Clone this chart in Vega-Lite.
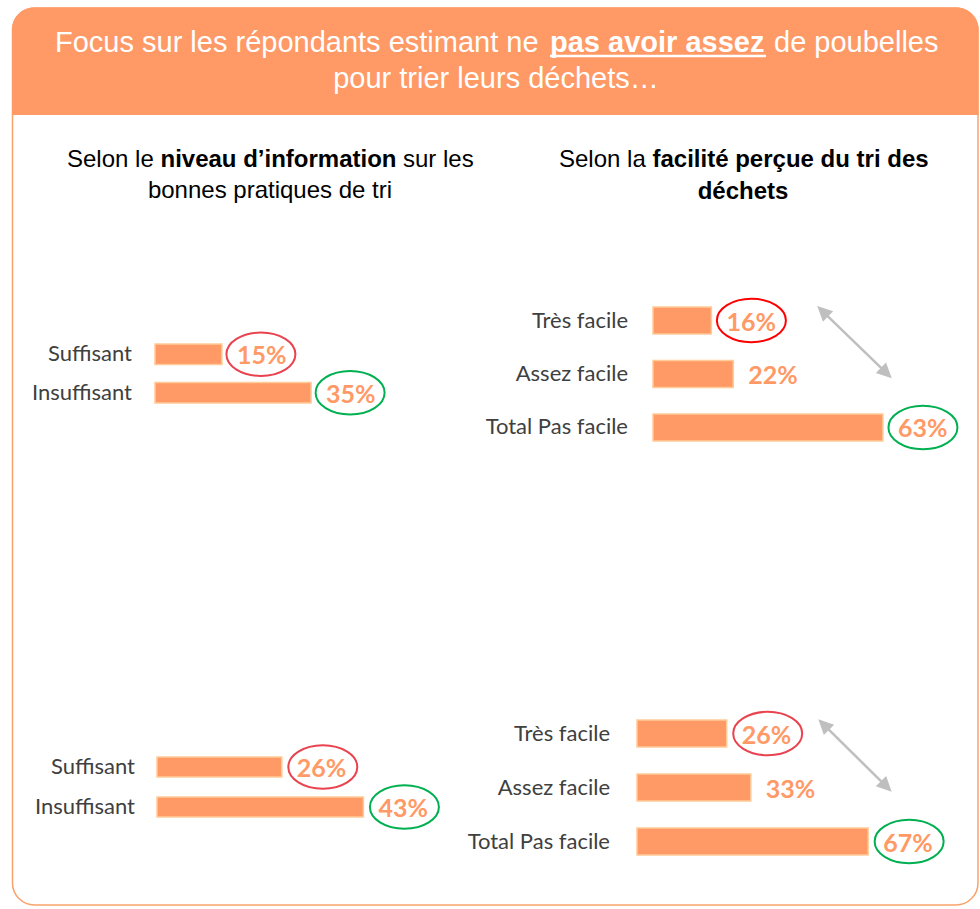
{
  "$schema": "https://vega.github.io/schema/vega-lite/v6.json",
  "width": 980,
  "height": 909,
  "padding": 0,
  "autosize": {"type": "none"},
  "background": "white",
  "config": {"view": {"stroke": null}, "axis": {"disable": true}},
  "data": {"values": [{}]},
  "datasets": {
    "info_1": [
      {"niveau": "Suffisant", "part": 0.15, "cercle": "min"},
      {"niveau": "Insuffisant", "part": 0.35, "cercle": "max"}
    ],
    "facilite_1": [
      {"facilite": "Très facile", "part": 0.16, "cercle": "min"},
      {"facilite": "Assez facile", "part": 0.22, "cercle": null},
      {"facilite": "Total Pas facile", "part": 0.63, "cercle": "max"}
    ],
    "info_2": [
      {"niveau": "Suffisant", "part": 0.26, "cercle": "min"},
      {"niveau": "Insuffisant", "part": 0.43, "cercle": "max"}
    ],
    "facilite_2": [
      {"facilite": "Très facile", "part": 0.26, "cercle": "min"},
      {"facilite": "Assez facile", "part": 0.33, "cercle": null},
      {"facilite": "Total Pas facile", "part": 0.67, "cercle": "max"}
    ]
  },
  "layer": [
    {
      "mark": {"type": "rect", "fillOpacity": 0, "stroke": "#F9A26A", "strokeWidth": 1.5, "cornerRadius": 22},
      "encoding": {"x": {"value": 12.5}, "x2": {"value": 978}, "y": {"value": 8}, "y2": {"value": 905}}
    },
    {
      "mark": {"type": "rect", "fill": "#FF9966", "cornerRadiusTopLeft": 22, "cornerRadiusTopRight": 22},
      "encoding": {"x": {"value": 12}, "x2": {"value": 978.5}, "y": {"value": 7.5}, "y2": {"value": 115}}
    },
    {
      "mark": {"type": "text", "font": "Liberation Sans", "fontSize": 29, "fill": "white", "align": "left", "baseline": "alphabetic"},
      "encoding": {"x": {"value": 55}, "y": {"value": 52}, "text": {"value": "Focus sur les répondants estimant ne"}}
    },
    {
      "mark": {"type": "text", "font": "Liberation Sans", "fontSize": 29, "fontWeight": "bold", "fill": "white", "align": "left", "baseline": "alphabetic"},
      "encoding": {"x": {"value": 550}, "y": {"value": 52}, "text": {"value": "pas avoir assez"}}
    },
    {
      "mark": {"type": "text", "font": "Liberation Sans", "fontSize": 29, "fill": "white", "align": "left", "baseline": "alphabetic"},
      "encoding": {"x": {"value": 774}, "y": {"value": 52}, "text": {"value": "de poubelles"}}
    },
    {
      "mark": {"type": "text", "font": "Liberation Sans", "fontSize": 29, "fill": "white", "align": "center", "baseline": "alphabetic"},
      "encoding": {"x": {"value": 496}, "y": {"value": 88}, "text": {"value": "pour trier leurs déchets…"}}
    },
    {
      "mark": {"type": "rule", "stroke": "white", "strokeWidth": 2.5},
      "encoding": {"x": {"value": 550}, "x2": {"value": 766}, "y": {"value": 56}}
    },
    {
      "mark": {"type": "text", "font": "Liberation Sans", "fontSize": 24, "fill": "black", "align": "left", "baseline": "alphabetic"},
      "encoding": {"x": {"value": 67}, "y": {"value": 167}, "text": {"value": "Selon le"}}
    },
    {
      "mark": {"type": "text", "font": "Liberation Sans", "fontSize": 24, "fontWeight": "bold", "fill": "black", "align": "left", "baseline": "alphabetic"},
      "encoding": {"x": {"value": 160.5}, "y": {"value": 167}, "text": {"value": "niveau d’information"}}
    },
    {
      "mark": {"type": "text", "font": "Liberation Sans", "fontSize": 24, "fill": "black", "align": "left", "baseline": "alphabetic"},
      "encoding": {"x": {"value": 403}, "y": {"value": 167}, "text": {"value": "sur les"}}
    },
    {
      "mark": {"type": "text", "font": "Liberation Sans", "fontSize": 24, "fill": "black", "align": "center", "baseline": "alphabetic"},
      "encoding": {"x": {"value": 270}, "y": {"value": 198}, "text": {"value": "bonnes pratiques de tri"}}
    },
    {
      "mark": {"type": "text", "font": "Liberation Sans", "fontSize": 24, "fill": "black", "align": "left", "baseline": "alphabetic"},
      "encoding": {"x": {"value": 559}, "y": {"value": 167}, "text": {"value": "Selon la"}}
    },
    {
      "mark": {"type": "text", "font": "Liberation Sans", "fontSize": 24, "fontWeight": "bold", "fill": "black", "align": "left", "baseline": "alphabetic"},
      "encoding": {"x": {"value": 652.5}, "y": {"value": 167}, "text": {"value": "facilité perçue du tri des"}}
    },
    {
      "mark": {"type": "text", "font": "Liberation Sans", "fontSize": 24, "fontWeight": "bold", "fill": "black", "align": "center", "baseline": "alphabetic"},
      "encoding": {"x": {"value": 743}, "y": {"value": 199}, "text": {"value": "déchets"}}
    },
    {
      "mark": {"type": "rule", "stroke": "#BFBFBF", "strokeWidth": 2.5},
      "encoding": {"x": {"value": 824}, "y": {"value": 312.6}, "x2": {"value": 885}, "y2": {"value": 371.7}}
    },
    {
      "mark": {"type": "point", "shape": "M0,-1L0.78,0.6L-0.78,0.6Z", "size": 353, "filled": true, "opacity": 1, "color": "#BFBFBF", "angle": 314},
      "encoding": {"x": {"value": 824}, "y": {"value": 312.6}}
    },
    {
      "mark": {"type": "point", "shape": "M0,-1L0.78,0.6L-0.78,0.6Z", "size": 353, "filled": true, "opacity": 1, "color": "#BFBFBF", "angle": 134},
      "encoding": {"x": {"value": 885}, "y": {"value": 371.7}}
    },
    {
      "mark": {"type": "rule", "stroke": "#BFBFBF", "strokeWidth": 2.5},
      "encoding": {"x": {"value": 825}, "y": {"value": 725.9}, "x2": {"value": 885}, "y2": {"value": 785.1}}
    },
    {
      "mark": {"type": "point", "shape": "M0,-1L0.78,0.6L-0.78,0.6Z", "size": 353, "filled": true, "opacity": 1, "color": "#BFBFBF", "angle": 314.6},
      "encoding": {"x": {"value": 825}, "y": {"value": 725.9}}
    },
    {
      "mark": {"type": "point", "shape": "M0,-1L0.78,0.6L-0.78,0.6Z", "size": 353, "filled": true, "opacity": 1, "color": "#BFBFBF", "angle": 134.6},
      "encoding": {"x": {"value": 885}, "y": {"value": 785.1}}
    },
    {
      "data": {"name": "info_1"},
      "encoding": {
        "x": {"field": "part", "type": "quantitative", "axis": null, "scale": {"domain": [0, 1], "range": [155, 601], "nice": false}},
        "y": {"field": "niveau", "type": "nominal", "axis": null, "scale": {"domain": ["Suffisant", "Insuffisant"], "range": [344, 403], "paddingInner": 0.47, "paddingOuter": 0}}
      },
      "layer": [
        {"mark": {"type": "bar", "fill": "#FF9966", "stroke": "#FFCC99", "strokeWidth": 1.5}},
        {
          "mark": {"type": "text", "align": "left", "baseline": "middle", "dx": 15, "dy": 2, "font": "Lato", "fontWeight": "bold", "fontSize": 25, "fill": "#FF9966"},
          "encoding": {"text": {"field": "part", "type": "quantitative", "format": ".0%"}}
        },
        {
          "transform": [{"filter": "datum.cercle != null"}],
          "mark": {"type": "point", "shape": "M-1,0C-1,-0.348,-0.5523,-0.63,0,-0.63C0.5523,-0.63,1,-0.348,1,0C1,0.348,0.5523,0.63,0,0.63C-0.5523,0.63,-1,0.348,-1,0Z", "size": 4761, "filled": false, "strokeWidth": 2, "opacity": 1, "xOffset": 39},
          "encoding": {"color": {"field": "cercle", "type": "nominal", "legend": null, "scale": {"domain": ["min", "max"], "range": ["#E8434E", "#00B050"]}}}
        },
        {
          "mark": {"type": "text", "align": "right", "baseline": "middle", "dx": -23, "font": "Lato", "fontSize": 22, "fill": "#404040"},
          "encoding": {"x": {"datum": 0, "type": "quantitative"}, "text": {"field": "niveau", "type": "nominal"}}
        }
      ]
    },
    {
      "data": {"name": "facilite_1"},
      "encoding": {
        "x": {"field": "part", "type": "quantitative", "axis": null, "scale": {"domain": [0, 1], "range": [653, 1018], "nice": false}},
        "y": {"field": "facilite", "type": "nominal", "axis": null, "scale": {"domain": ["Très facile", "Assez facile", "Total Pas facile"], "range": [307, 441], "paddingInner": 0.495, "paddingOuter": 0}}
      },
      "layer": [
        {"mark": {"type": "bar", "fill": "#FF9966", "stroke": "#FFCC99", "strokeWidth": 1.5}},
        {
          "mark": {"type": "text", "align": "left", "baseline": "middle", "dx": 15, "dy": 2, "font": "Lato", "fontWeight": "bold", "fontSize": 25, "fill": "#FF9966"},
          "encoding": {"text": {"field": "part", "type": "quantitative", "format": ".0%"}}
        },
        {
          "transform": [{"filter": "datum.cercle != null"}],
          "mark": {"type": "point", "shape": "M-1,0C-1,-0.348,-0.5523,-0.63,0,-0.63C0.5523,-0.63,1,-0.348,1,0C1,0.348,0.5523,0.63,0,0.63C-0.5523,0.63,-1,0.348,-1,0Z", "size": 4761, "filled": false, "strokeWidth": 2, "opacity": 1, "xOffset": 40},
          "encoding": {"color": {"field": "cercle", "type": "nominal", "legend": null, "scale": {"domain": ["min", "max"], "range": ["#FF0000", "#00B050"]}}}
        },
        {
          "mark": {"type": "text", "align": "right", "baseline": "middle", "dx": -25, "font": "Lato", "fontSize": 22, "fill": "#404040"},
          "encoding": {"x": {"datum": 0, "type": "quantitative"}, "text": {"field": "facilite", "type": "nominal"}}
        }
      ]
    },
    {
      "data": {"name": "info_2"},
      "encoding": {
        "x": {"field": "part", "type": "quantitative", "axis": null, "scale": {"domain": [0, 1], "range": [157, 637], "nice": false}},
        "y": {"field": "niveau", "type": "nominal", "axis": null, "scale": {"domain": ["Suffisant", "Insuffisant"], "range": [757, 817], "paddingInner": 0.5, "paddingOuter": 0}}
      },
      "layer": [
        {"mark": {"type": "bar", "fill": "#FF9966", "stroke": "#FFCC99", "strokeWidth": 1.5}},
        {
          "mark": {"type": "text", "align": "left", "baseline": "middle", "dx": 15, "dy": 2, "font": "Lato", "fontWeight": "bold", "fontSize": 25, "fill": "#FF9966"},
          "encoding": {"text": {"field": "part", "type": "quantitative", "format": ".0%"}}
        },
        {
          "transform": [{"filter": "datum.cercle != null"}],
          "mark": {"type": "point", "shape": "M-1,0C-1,-0.348,-0.5523,-0.63,0,-0.63C0.5523,-0.63,1,-0.348,1,0C1,0.348,0.5523,0.63,0,0.63C-0.5523,0.63,-1,0.348,-1,0Z", "size": 4761, "filled": false, "strokeWidth": 2, "opacity": 1, "xOffset": 41},
          "encoding": {"color": {"field": "cercle", "type": "nominal", "legend": null, "scale": {"domain": ["min", "max"], "range": ["#E8434E", "#00B050"]}}}
        },
        {
          "mark": {"type": "text", "align": "right", "baseline": "middle", "dx": -22, "font": "Lato", "fontSize": 22, "fill": "#404040"},
          "encoding": {"x": {"datum": 0, "type": "quantitative"}, "text": {"field": "niveau", "type": "nominal"}}
        }
      ]
    },
    {
      "data": {"name": "facilite_2"},
      "encoding": {
        "x": {"field": "part", "type": "quantitative", "axis": null, "scale": {"domain": [0, 1], "range": [637, 982], "nice": false}},
        "y": {"field": "facilite", "type": "nominal", "axis": null, "scale": {"domain": ["Très facile", "Assez facile", "Total Pas facile"], "range": [720, 855], "paddingInner": 0.5, "paddingOuter": 0}}
      },
      "layer": [
        {"mark": {"type": "bar", "fill": "#FF9966", "stroke": "#FFCC99", "strokeWidth": 1.5}},
        {
          "mark": {"type": "text", "align": "left", "baseline": "middle", "dx": 15, "dy": 2, "font": "Lato", "fontWeight": "bold", "fontSize": 25, "fill": "#FF9966"},
          "encoding": {"text": {"field": "part", "type": "quantitative", "format": ".0%"}}
        },
        {
          "transform": [{"filter": "datum.cercle != null"}],
          "mark": {"type": "point", "shape": "M-1,0C-1,-0.348,-0.5523,-0.63,0,-0.63C0.5523,-0.63,1,-0.348,1,0C1,0.348,0.5523,0.63,0,0.63C-0.5523,0.63,-1,0.348,-1,0Z", "size": 4761, "filled": false, "strokeWidth": 2, "opacity": 1, "xOffset": 41},
          "encoding": {"color": {"field": "cercle", "type": "nominal", "legend": null, "scale": {"domain": ["min", "max"], "range": ["#E8434E", "#00B050"]}}}
        },
        {
          "mark": {"type": "text", "align": "right", "baseline": "middle", "dx": -27, "font": "Lato", "fontSize": 22, "fill": "#404040"},
          "encoding": {"x": {"datum": 0, "type": "quantitative"}, "text": {"field": "facilite", "type": "nominal"}}
        }
      ]
    }
  ],
  "resolve": {"scale": {"x": "independent", "y": "independent", "color": "independent"}}
}
